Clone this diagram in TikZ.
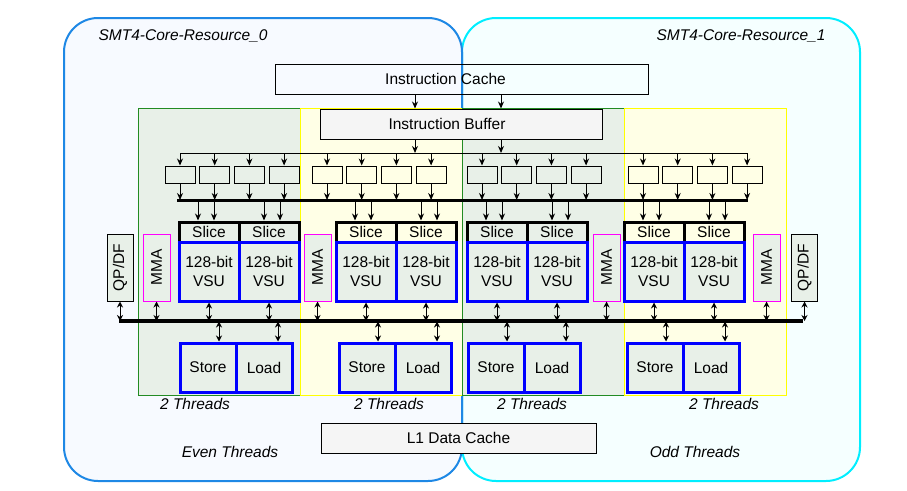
\documentclass[tikz,border=0pt]{standalone}
\usepackage{fontspec}
\setmainfont{Liberation Sans}
\usetikzlibrary{arrows.meta}
\definecolor{regblue}{RGB}{30,136,229}
\definecolor{regcyan}{RGB}{0,238,255}
\definecolor{fillblue}{RGB}{247,250,255}
\definecolor{fillcyan}{RGB}{245,255,255}
\definecolor{evengreen}{RGB}{34,139,34}
\definecolor{evenfill}{RGB}{232,240,232}
\definecolor{oddyellow}{RGB}{255,255,0}
\definecolor{oddfill}{RGB}{255,255,230}
\definecolor{boxgray}{RGB}{245,245,245}
\definecolor{mmapink}{RGB}{255,0,255}
\definecolor{vsublue}{RGB}{0,0,255}

\begin{document}
\begin{tikzpicture}[x=1pt,y=-1pt,font=\fontsize{15.5}{19}\selectfont]
			\tikzstyle{region0} = [draw=regblue,fill=fillblue,line width=2pt,rounded corners=34pt]
			\tikzstyle{region1} = [draw=regcyan,fill=fillcyan,line width=2pt,rounded corners=34pt]
			\tikzstyle{lbl} = [font=\fontsize{15.5}{19}\selectfont\itshape]
			\tikzstyle{bigbox} = [draw=black,line width=1pt,minimum height=30pt,inner sep=0pt]
			\tikzstyle{sbox} = [draw=black,line width=1pt,minimum width=30pt,minimum height=17pt,inner sep=0pt]
			\tikzstyle{slice} = [draw=black,line width=3pt,minimum width=60pt,minimum height=20pt,inner sep=0pt]
			\tikzstyle{unit} = [draw=vsublue,fill=evenfill,line width=3pt,inner sep=0pt,align=center]
			\tikzstyle{mma} = [draw=mmapink,fill=evenfill,line width=1pt,rotate=90,minimum width=67pt,minimum height=27pt,inner sep=0pt]
			\tikzstyle{qpdf} = [draw=black,fill=evenfill,line width=1pt,rotate=90,minimum width=67pt,minimum height=26pt,inner sep=0pt]
			\tikzstyle{arr} = [-{Stealth[length=7pt,width=6pt]},line width=1pt]
			\tikzstyle{darr} = [{Stealth[length=6pt,width=6pt]}-{Stealth[length=6pt,width=6pt]},line width=1pt]
			\tikzstyle{bus} = [line width=3pt]
			\useasboundingbox (0,0) rectangle (907,490);
			\coordinate (ta) at (415,0);
			\coordinate (tb) at (501,0);
			\coordinate (dl) at (0,153);
			\coordinate (ubl) at (177,200);
			\coordinate (ubr) at (748,200);
			\coordinate (lbusl) at (119,321);
			\coordinate (lbusr) at (803,321);
			\draw[region1] (462,18) rectangle (860,481);
			\draw[region0] (64,18) rectangle (462,481);
			\node[lbl] (r0) at (183,36) {SMT4-Core-Resource\_0};
			\node[lbl] (r1) at (741,36) {SMT4-Core-Resource\_1};
			\node[lbl] (even) at (230,452) {Even Threads};
			\node[lbl] (odd) at (695,452) {Odd Threads};
			\foreach \g/\tx/\tf/\tc/\lx in {1/138/evenfill/evengreen/195, 2/300/oddfill/oddyellow/389, 3/462/evenfill/evengreen/532, 4/624/oddfill/oddyellow/724} {
				\draw[fill=\tf,draw=\tc] (\tx,108) rectangle ++(162,287);
				\node[lbl] (thr\g) at (\lx,404) {2 Threads};
			}
			\node[bigbox,minimum width=373pt,label={[xshift=-16pt]center:Instruction Cache}] (ic) at (461.5,79) {};
			\node[bigbox,fill=boxgray,minimum width=282pt,label={[xshift=-14pt]center:Instruction Buffer}] (ib) at (461,124) {};
			\node[bigbox,fill=boxgray,minimum width=275pt] (l1) at (458.5,438) {L1 Data Cache};
			\draw[arr] (ic.south -| ta) -- (ib.north -| ta);
			\draw[arr] (ic.south -| tb) -- (ib.north -| tb);
			\draw[arr] (ib.south -| ta) -- (dl -| ta);
			\draw[arr] (ib.south -| tb) -- (dl -| tb);
			\foreach \g/\bx in {1/165,2/312,3/467,4/628}
				\foreach \j in {0,1,2,3} {
					\node[sbox] (sb\g\j) at (\bx+15+34.7*\j,174.5) {};
					\draw[arr] (sb\g\j.north |- dl) -- (sb\g\j.north);
					\draw[arr] (sb\g\j.south) -- (sb\g\j.south |- ubl);
				}
			\draw[line width=1pt] (sb10.north |- dl) -- (sb43.north |- dl);
			\draw[bus] (ubl) -- (ubr);
			\foreach \g/\sx/\lx/\mx in {1/179/180/143, 2/336/339/304, 3/467/468/593, 4/624/627/753} {
				\node[slice] (sl\g a) at (\sx+30,232) {Slice};
				\node[slice] (sl\g b) at (\sx+90,232) {Slice};
				\node[unit,minimum width=60pt,minimum height=59pt] (vsu\g a) at (\sx+30,271.5) {128-bit\\VSU};
				\node[unit,minimum width=60pt,minimum height=59pt] (vsu\g b) at (\sx+90,271.5) {128-bit\\VSU};
				\node[unit,minimum width=56pt,minimum height=49pt] (st\g) at (\lx+28,367.5) {Store};
				\node[unit,minimum width=56pt,minimum height=49pt] (ld\g) at (\lx+84,367.5) {Load};
				\node[mma] (mma\g) at (\mx+13.5,267.5) {MMA};
				\draw[arr] ([xshift=-11pt,yshift=20pt]sl\g a.north) -- ([xshift=-11pt]sl\g a.north);
				\draw[arr] ([xshift=5pt,yshift=20pt]sl\g a.north) -- ([xshift=5pt]sl\g a.north);
				\draw[arr] ([xshift=-5pt,yshift=20pt]sl\g b.north) -- ([xshift=-5pt]sl\g b.north);
				\draw[arr] ([xshift=11pt,yshift=20pt]sl\g b.north) -- ([xshift=11pt]sl\g b.north);
				\draw[darr] (vsu\g a.south) -- (vsu\g a.south |- lbusl);
				\draw[darr] (vsu\g b.south) -- (vsu\g b.south |- lbusl);
				\draw[darr] (mma\g.west) -- (mma\g.west |- lbusl);
				\draw[darr] ([xshift=11pt,yshift=20pt]st\g.north) -- ([xshift=11pt]st\g.north);
				\draw[darr] ([xshift=14pt,yshift=20pt]ld\g.north) -- ([xshift=14pt]ld\g.north);
			}
			\node[qpdf] (qp1) at (120,267.5) {QP/DF};
			\node[qpdf] (qp2) at (804.5,267.5) {QP/DF};
			\draw[darr] (qp1.west) -- (qp1.west |- lbusl);
			\draw[darr] (qp2.west) -- (qp2.west |- lbusl);
			\draw[bus,line width=3.5pt] (lbusl) -- (lbusr);
\end{tikzpicture}
\end{document}
